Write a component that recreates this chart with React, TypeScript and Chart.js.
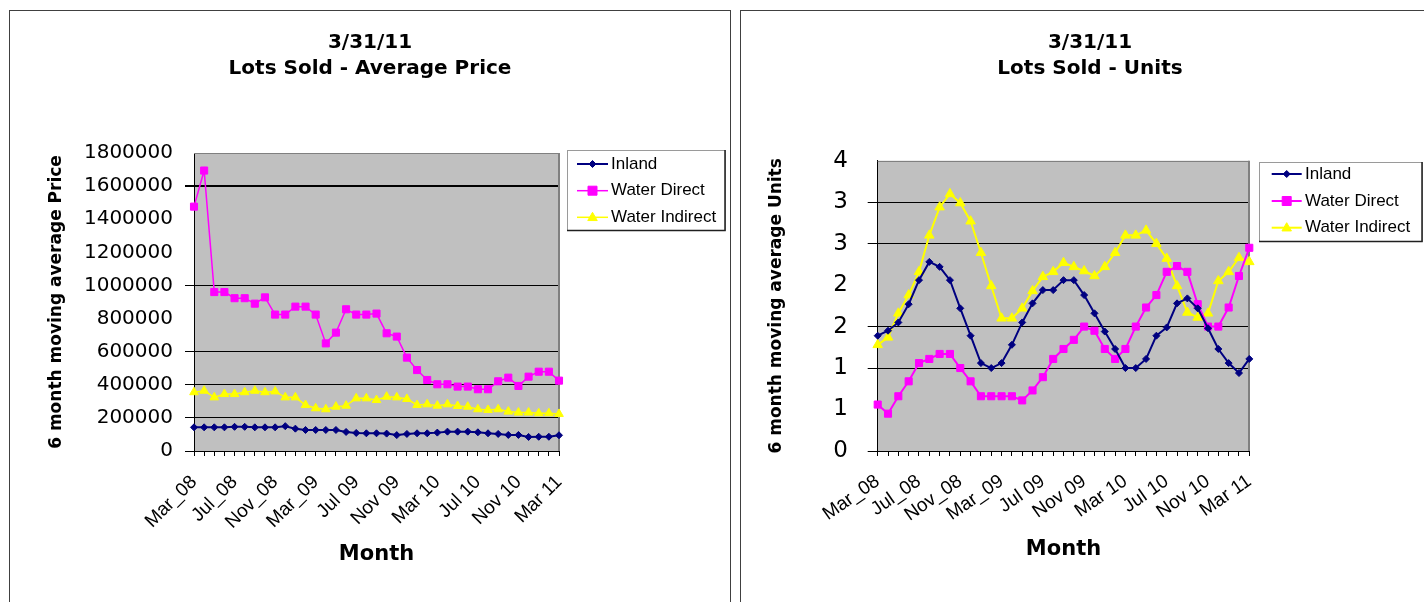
import React, { useEffect, useRef } from 'react';
import { Chart, registerables } from 'chart.js';

Chart.register(...registerables);

// ---------- data ----------
const titleDate = '3/31/11';
const seriesNames = ['Inland', 'Water Direct', 'Water Indirect'];

const monthLabels = [
  'Mar_08', 'Apr_08', 'May_08', 'Jun_08', 'Jul_08', 'Aug_08', 'Sep_08', 'Oct_08', 'Nov_08', 'Dec_08',
  'Jan_09', 'Feb_09', 'Mar_09', 'Apr 09', 'May 09', 'Jun 09', 'Jul 09', 'Aug 09', 'Sep 09', 'Oct 09',
  'Nov 09', 'Dec 09', 'Jan 10', 'Feb 10', 'Mar 10', 'Apr 10', 'May 10', 'Jun 10', 'Jul 10', 'Aug 10',
  'Sep 10', 'Oct 10', 'Nov 10', 'Dec 10', 'Jan 11', 'Feb 11', 'Mar 11',
];

const inlandPrice = [
  143000, 143000, 143000, 143000, 146000, 146000, 143000, 143000, 143000, 150000,
  135000, 127000, 127000, 127000, 127000, 115000, 109000, 107000, 107000, 105000,
  96000, 103000, 107000, 107000, 111000, 117000, 117000, 117000, 113000, 107000,
  103000, 97000, 97000, 85000, 86000, 86000, 95000,
];
const waterDirectPrice = [
  1476000, 1694000, 960000, 960000, 923000, 923000, 890000, 928000, 824000, 824000,
  872000, 872000, 824000, 650000, 715000, 856000, 824000, 824000, 830000, 711000,
  691000, 564000, 489000, 429000, 403000, 403000, 389000, 389000, 373000, 373000,
  421000, 443000, 393000, 449000, 479000, 479000, 425000,
];
const waterIndirectPrice = [
  355000, 364000, 324000, 344000, 344000, 355000, 364000, 355000, 360000, 324000,
  324000, 278000, 258000, 252000, 268000, 274000, 318000, 318000, 308000, 328000,
  324000, 314000, 278000, 282000, 274000, 282000, 272000, 268000, 252000, 248000,
  252000, 238000, 232000, 232000, 228000, 228000, 224000,
];
const priceTickLabels = ['0', '200000', '400000', '600000', '800000', '1000000', '1200000', '1400000', '1600000', '1800000'];

const inlandUnits = [
  1.39, 1.45, 1.55, 1.77, 2.06, 2.28, 2.22, 2.06, 1.72, 1.39,
  1.06, 1.0, 1.06, 1.28, 1.55, 1.78, 1.94, 1.94, 2.06, 2.06,
  1.88, 1.66, 1.44, 1.23, 1.0, 1.0, 1.11, 1.39, 1.49, 1.78,
  1.84, 1.72, 1.48, 1.23, 1.06, 0.94, 1.11,
];
const waterDirectUnits = [
  0.56, 0.45, 0.66, 0.84, 1.06, 1.11, 1.17, 1.17, 1.0, 0.84,
  0.66, 0.66, 0.66, 0.66, 0.61, 0.73, 0.89, 1.11, 1.23, 1.34,
  1.5, 1.45, 1.23, 1.11, 1.23, 1.5, 1.73, 1.88, 2.16, 2.23,
  2.16, 1.77, 1.5, 1.5, 1.73, 2.11, 2.45,
];
const waterIndirectUnits = [
  1.28, 1.37, 1.66, 1.88, 2.16, 2.6, 2.94, 3.1, 2.99, 2.77,
  2.39, 1.99, 1.6, 1.6, 1.72, 1.93, 2.1, 2.16, 2.27, 2.22,
  2.17, 2.11, 2.22, 2.39, 2.6, 2.6, 2.66, 2.5, 2.32, 1.99,
  1.67, 1.61, 1.66, 2.05, 2.16, 2.33, 2.28,
];
const unitsTickLabels = ['0', '1', '1', '2', '2', '3', '3', '4'];

// ---------- style ----------
const NAVY = '#000080';
const MAGENTA = '#FF00FF';
const YELLOW = '#FFFF00';
const PLOT_BG = '#C0C0C0';
const TITLE_FONT = 'DejaVu Sans';
const ARIAL = '"Liberation Sans", Arial, sans-serif';
const LEGEND_FONT = '17px "Liberation Sans", Arial, sans-serif';

const priceGridValues = [0, 200000, 400000, 600000, 1000000, 1600000];
const unitsGridValues = [0, 1, 1.5, 2.5, 3];

type MarkerStyle = 'diamond' | 'square' | 'triangle';

function drawMarker(ctx: CanvasRenderingContext2D, style: MarkerStyle, x: number, y: number, r: number, color: string) {
  ctx.save();
  ctx.fillStyle = color;
  ctx.strokeStyle = color;
  ctx.lineWidth = 1;
  ctx.beginPath();
  if (style === 'diamond') {
    ctx.moveTo(x, y - r);
    ctx.lineTo(x + r, y);
    ctx.lineTo(x, y + r);
    ctx.lineTo(x - r, y);
  } else if (style === 'square') {
    ctx.rect(x - r, y - r, 2 * r, 2 * r);
  } else {
    ctx.moveTo(x, y - r);
    ctx.lineTo(x + r * 0.95, y + r * 0.65);
    ctx.lineTo(x - r * 0.95, y + r * 0.65);
  }
  ctx.closePath();
  ctx.fill();
  ctx.stroke();
  ctx.restore();
}

interface LegendCfg {
  box: [number, number, number, number];
  lineX: [number, number];
  textX: number;
  rows: number[];
  markers: { style: MarkerStyle; r: number }[];
}

function makeLookPlugin(legend: LegendCfg) {
  return {
    id: 'excelLook',
    beforeDraw(chart: any) {
      const { ctx, chartArea: a } = chart;
      ctx.save();
      ctx.fillStyle = PLOT_BG;
      ctx.fillRect(a.left, a.top, a.right - a.left, a.bottom - a.top);
      ctx.restore();
    },
    beforeDatasetsDraw(chart: any) {
      const { ctx, chartArea: a } = chart;
      ctx.save();
      ctx.strokeStyle = '#808080';
      ctx.lineWidth = 1;
      ctx.beginPath();
      ctx.moveTo(a.left, Math.round(a.top) + 0.5);
      ctx.lineTo(a.right, Math.round(a.top) + 0.5);
      ctx.stroke();
      ctx.lineWidth = 2;
      ctx.beginPath();
      ctx.moveTo(Math.round(a.right), a.top);
      ctx.lineTo(Math.round(a.right), a.bottom);
      ctx.stroke();
      ctx.restore();
    },
    afterDraw(chart: any) {
      const { ctx } = chart;
      const [x1, y1, x2, y2] = legend.box;
      ctx.save();
      ctx.strokeStyle = '#9a9a9a';
      ctx.lineWidth = 1;
      ctx.strokeRect(Math.round(x1) + 0.5, Math.round(y1) + 0.5, Math.round(x2 - x1), Math.round(y2 - y1));
      ctx.strokeStyle = '#202020';
      ctx.lineWidth = 1.5;
      ctx.beginPath();
      ctx.moveTo(Math.round(x2), Math.round(y1));
      ctx.lineTo(Math.round(x2), Math.round(y2) + 0.5);
      ctx.lineTo(Math.round(x1), Math.round(y2) + 0.5);
      ctx.stroke();
      chart.data.datasets.forEach((ds: any, i: number) => {
        const y = legend.rows[i];
        ctx.strokeStyle = ds.borderColor;
        ctx.lineWidth = ds.borderWidth;
        ctx.beginPath();
        ctx.moveTo(legend.lineX[0], y);
        ctx.lineTo(legend.lineX[1], y);
        ctx.stroke();
        const m = legend.markers[i];
        drawMarker(ctx, m.style, (legend.lineX[0] + legend.lineX[1]) / 2, y, m.r, ds.borderColor);
        ctx.fillStyle = '#000';
        ctx.font = LEGEND_FONT;
        ctx.textBaseline = 'middle';
        ctx.textAlign = 'left';
        ctx.fillText(ds.label, legend.textX, y);
      });
      ctx.restore();
    },
  };
}

function near(list: number[], v: number) {
  return list.some((g) => Math.abs(g - v) < 1e-6 * Math.max(1, Math.abs(g)));
}

interface ChartGeom {
  padLeft: number;
  yWidth: number;
  rightWidth: number;
  titlePadTop: number;
  titlePadBottom: number;
  xHeight: number;
  xRotation: number;
  xTickPadding: number;
  xTickFont: number;
  xTitlePadBottom: number;
  yTickFont: number;
  yTickPadding: number;
  yTickLength: number;
  yTitlePadTop: number;
}

function buildConfig(
  titleText: string,
  yTitle: string,
  series: number[][],
  yMax: number,
  yStep: number,
  tickLabels: string[],
  gridValues: number[],
  thickValue: number | null,
  g: ChartGeom,
  legend: LegendCfg,
  lineWidths: number[],
  radii: number[],
): any {
  const styles = ['rectRot', 'rect', 'triangle'];
  const colors = [NAVY, MAGENTA, YELLOW];
  return {
    type: 'line',
    data: {
      labels: monthLabels,
      datasets: series.map((d, i) => ({
        label: seriesNames[i],
        data: d,
        borderColor: colors[i],
        backgroundColor: colors[i],
        borderWidth: lineWidths[i],
        pointStyle: styles[i],
        pointRadius: radii[i],
        pointBackgroundColor: colors[i],
        pointBorderColor: colors[i],
        pointBorderWidth: 1,
        tension: 0,
        fill: false,
        clip: false,
        yAxisID: 'y',
      })),
    },
    options: {
      responsive: false,
      animation: false,
      devicePixelRatio: 1,
      layout: { padding: { left: g.padLeft, right: 0, top: 0, bottom: 0 } },
      events: [],
      plugins: {
        legend: { display: false },
        tooltip: { enabled: false },
        title: {
          display: true,
          text: [titleDate, titleText],
          color: '#000',
          font: { family: TITLE_FONT, size: 20, weight: 'bold', lineHeight: 1.3 },
          padding: { top: g.titlePadTop, bottom: g.titlePadBottom },
        },
      },
      scales: {
        x: {
          type: 'category',
          offset: false,
          grid: {
            display: true,
            drawOnChartArea: false,
            drawTicks: true,
            tickLength: 5,
            color: '#000',
          },
          border: { display: true, color: '#000', width: 1 },
          ticks: {
            autoSkip: false,
            minRotation: g.xRotation,
            maxRotation: g.xRotation,
            padding: g.xTickPadding,
            color: '#000',
            font: { family: ARIAL, size: g.xTickFont },
            callback: (_v: any, i: number) => (i % 4 === 0 ? monthLabels[i] : ''),
          },
          title: {
            display: true,
            text: 'Month',
            color: '#000',
            font: { family: TITLE_FONT, size: 21, weight: 'bold', lineHeight: 1.2 },
            padding: { top: 0, bottom: g.xTitlePadBottom },
          },
          afterFit: (s: any) => {
            s.height = g.xHeight;
          },
        },
        y: {
          type: 'linear',
          position: 'left',
          min: 0,
          max: yMax,
          grid: {
            display: true,
            drawOnChartArea: true,
            drawTicks: true,
            tickLength: g.yTickLength,
            color: (c: any) => (c.tick && near(gridValues, c.tick.value) ? '#000' : 'rgba(0,0,0,0)'),
            lineWidth: (c: any) => (c.tick && thickValue !== null && near([thickValue], c.tick.value) ? 2 : 1),
          },
          border: { display: true, color: '#000', width: 1 },
          ticks: {
            stepSize: yStep,
            padding: g.yTickPadding,
            color: '#000',
            font: { family: TITLE_FONT, size: g.yTickFont },
            callback: (_v: any, i: number) => tickLabels[i],
          },
          title: {
            display: true,
            text: yTitle,
            color: '#000',
            font: { family: TITLE_FONT, size: 17, weight: 'bold', lineHeight: 1.2 },
            padding: { top: g.yTitlePadTop, bottom: 0 },
          },
          afterFit: (s: any) => {
            s.width = g.yWidth;
          },
        },
        legendSpace: {
          type: 'linear',
          position: 'right',
          display: true,
          grid: { display: false },
          border: { display: false },
          ticks: { display: false },
          afterFit: (s: any) => {
            s.width = g.rightWidth;
          },
        },
      },
    },
    plugins: [makeLookPlugin(legend)],
  };
}

function ChartCanvas(props: { makeConfig: () => any; left: number; top: number; width: number; height: number }) {
  const ref = useRef<HTMLCanvasElement>(null);
  useEffect(() => {
    if (!ref.current) return;
    const chart = new Chart(ref.current, props.makeConfig());
    return () => chart.destroy();
  }, []);
  return (
    <canvas
      ref={ref}
      width={props.width}
      height={props.height}
      style={{
        position: 'absolute',
        left: props.left,
        top: props.top,
        width: props.width,
        height: props.height,
        display: 'block',
      }}
    />
  );
}

const priceConfig = () =>
  buildConfig(
    'Lots Sold - Average Price',
    '6 month moving average Price',
    [inlandPrice, waterDirectPrice, waterIndirectPrice],
    1800000,
    200000,
    priceTickLabels,
    priceGridValues,
    1600000,
    {
      padLeft: 0,
      yWidth: 184,
      rightWidth: 171,
      titlePadTop: 18.5,
      titlePadBottom: 71.5,
      xHeight: 151,
      xRotation: 45,
      xTickPadding: 15,
      xTickFont: 19,
      xTitlePadBottom: 35,
      yTickFont: 20,
      yTickPadding: 12,
      yTickLength: 9,
      yTitlePadTop: 36.3,
    },
    {
      box: [557, 139, 715, 219],
      lineX: [567, 598],
      textX: 601,
      rows: [153, 179.7, 206.3],
      markers: [
        { style: 'diamond', r: 3.5 },
        { style: 'square', r: 4.5 },
        { style: 'triangle', r: 5 },
      ],
    },
    [2, 1.5, 1.5],
    [3.5, 5, 5],
  );

const unitsConfig = () =>
  buildConfig(
    'Lots Sold - Units',
    '6 month moving average Units',
    [inlandUnits, waterDirectUnits, waterIndirectUnits],
    3.5,
    0.5,
    unitsTickLabels,
    unitsGridValues,
    null,
    {
      padLeft: 15,
      yWidth: 121.7,
      rightWidth: 174.7,
      titlePadTop: 18.5,
      titlePadBottom: 79.2,
      xHeight: 151,
      xRotation: 35,
      xTickPadding: 14,
      xTickFont: 19,
      xTitlePadBottom: 39.9,
      yTickFont: 23,
      yTickPadding: 19.7,
      yTickLength: 10,
      yTitlePadTop: 10.3,
    },
    {
      box: [518, 150.7, 680.7, 230],
      lineX: [530.7, 560.7],
      textX: 564,
      rows: [163, 190, 216.7],
      markers: [
        { style: 'diamond', r: 3.5 },
        { style: 'square', r: 4.5 },
        { style: 'triangle', r: 5 },
      ],
    },
    [2, 2, 2],
    [3.5, 5, 5.5],
  );

export default function App() {
  return (
    <div>
      <div
        style={{
          position: 'absolute',
          left: 9,
          top: 10,
          width: 722,
          height: 592,
          boxSizing: 'border-box',
          borderLeft: '1px solid #404040',
          borderRight: '1px solid #404040',
          borderTop: '1px solid #404040',
          background: '#fff',
        }}
      />
      <div
        style={{
          position: 'absolute',
          left: 740,
          top: 10,
          width: 684,
          height: 592,
          boxSizing: 'border-box',
          borderLeft: '1px solid #404040',
          borderTop: '1px solid #404040',
          background: '#fff',
        }}
      />
      <ChartCanvas makeConfig={priceConfig} left={10} top={11} width={720} height={591} />
      <ChartCanvas makeConfig={unitsConfig} left={741} top={11} width={683} height={591} />
    </div>
  );
}
